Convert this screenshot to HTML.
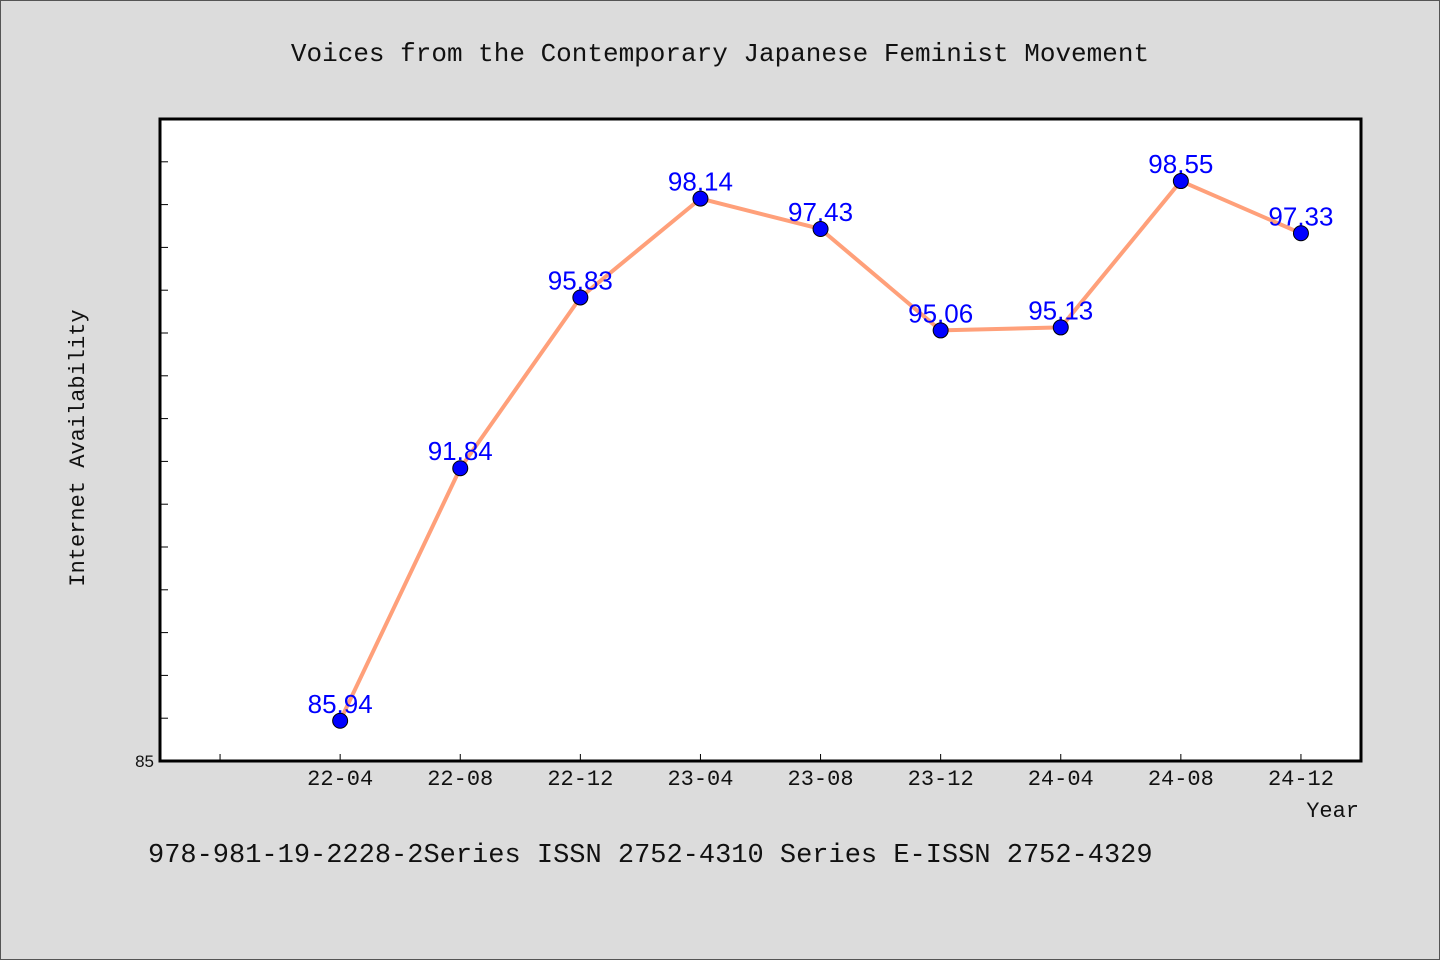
<!DOCTYPE html>
<html><head><meta charset="utf-8"><style>
html,body{margin:0;padding:0;background:#dcdcdc;}
svg{display:block;}
.mono{font-family:"WenQuanYi Zen Hei Mono","WenQuanYi Zen Hei","Liberation Mono",monospace;}
.sans{font-family:"WenQuanYi Zen Hei","Liberation Sans",sans-serif;}
</style></head><body>
<svg id="chart" width="1440" height="960" xmlns="http://www.w3.org/2000/svg">
<rect x="0.5" y="0.5" width="1439" height="959" fill="#dcdcdc" stroke="#555"/>
<text class="mono" x="720" y="61" font-size="26" text-anchor="middle" fill="#111">Voices from the Contemporary Japanese Feminist Movement</text>
<rect x="160" y="119" width="1201" height="642" fill="#fff"/>
<g id="axes"></g>
<g id="series"></g>
<rect x="160" y="119" width="1201" height="642" fill="none" stroke="#000" stroke-width="3"/>
<text class="mono" transform="translate(84,448) rotate(-90)" font-size="22" text-anchor="middle" fill="#111">Internet Availability</text>
<text class="mono" x="1359" y="817" font-size="22" text-anchor="end" fill="#111">Year</text>
<text class="mono" x="148" y="862" font-size="27" fill="#111">978-981-19-2228-2Series ISSN 2752-4310 Series E-ISSN 2752-4329</text>
</svg>
<script>
const categories = ["22-04","22-08","22-12","23-04","23-08","23-12","24-04","24-08","24-12"];
const values = [85.94,91.84,95.83,98.14,97.43,95.06,95.13,98.55,97.33];
const yTicks = [85,86,87,88,89,90,91,92,93,94,95,96,97,98,99];
const yTickLabels = ["85"];

const NS="http://www.w3.org/2000/svg";
const X0=160,X1=1361,Y0=761,Y1=119;
const xMin=-1.5,xMax=8.5,yMin=85,yMax=100;
function xs(i){return X0+(i-xMin)/(xMax-xMin)*(X1-X0);}
function ys(v){return Y0-(v-yMin)/(yMax-yMin)*(Y0-Y1);}
function mk(tag,attrs,parent){const e=document.createElementNS(NS,tag);for(const k in attrs)e.setAttribute(k,attrs[k]);parent.appendChild(e);return e;}
const axes=document.getElementById('axes'), series=document.getElementById('series');

yTicks.forEach((t,i)=>{
  const y=ys(t);
  const l=mk('line',{x1:X0,x2:X0+8,y1:y,y2:y,stroke:'#000','stroke-width':1},axes);
  
  
});
yTickLabels.forEach(s=>{
  const t=mk('text',{x:X0-6,y:ys(+s)+6,'font-size':17,'text-anchor':'end',fill:'#111',class:'sans'},axes);
  t.textContent=s;
  
  
});
for(let i=-1;i<categories.length;i++){
  const x=xs(i);
  const l=mk('line',{x1:x,x2:x,y1:Y0,y2:Y0-7,stroke:'#000','stroke-width':1},axes);
  
  
  if(i>=0){
    const t=mk('text',{x:x,y:Y0+24,'font-size':22,'text-anchor':'middle',fill:'#111',class:'mono'},axes);
    t.textContent=categories[i];
    
    
  }
}
const pts=values.map((v,i)=>xs(i)+','+ys(v)).join(' ');
const line=mk('polyline',{points:pts,fill:'none',stroke:'#ffa07a','stroke-width':4,'stroke-linejoin':'round'},series);


values.forEach((v,i)=>{
  const c=mk('circle',{cx:xs(i),cy:ys(v),r:7.5,fill:'#0000ff',stroke:'#000','stroke-width':1},series);
  
  
  const t=mk('text',{x:xs(i),y:ys(v)-8,'font-size':26,'text-anchor':'middle',fill:'#0000ff',class:'sans'},series);
  t.textContent=v.toFixed(2);
  
  
});
</script>
</body></html>
